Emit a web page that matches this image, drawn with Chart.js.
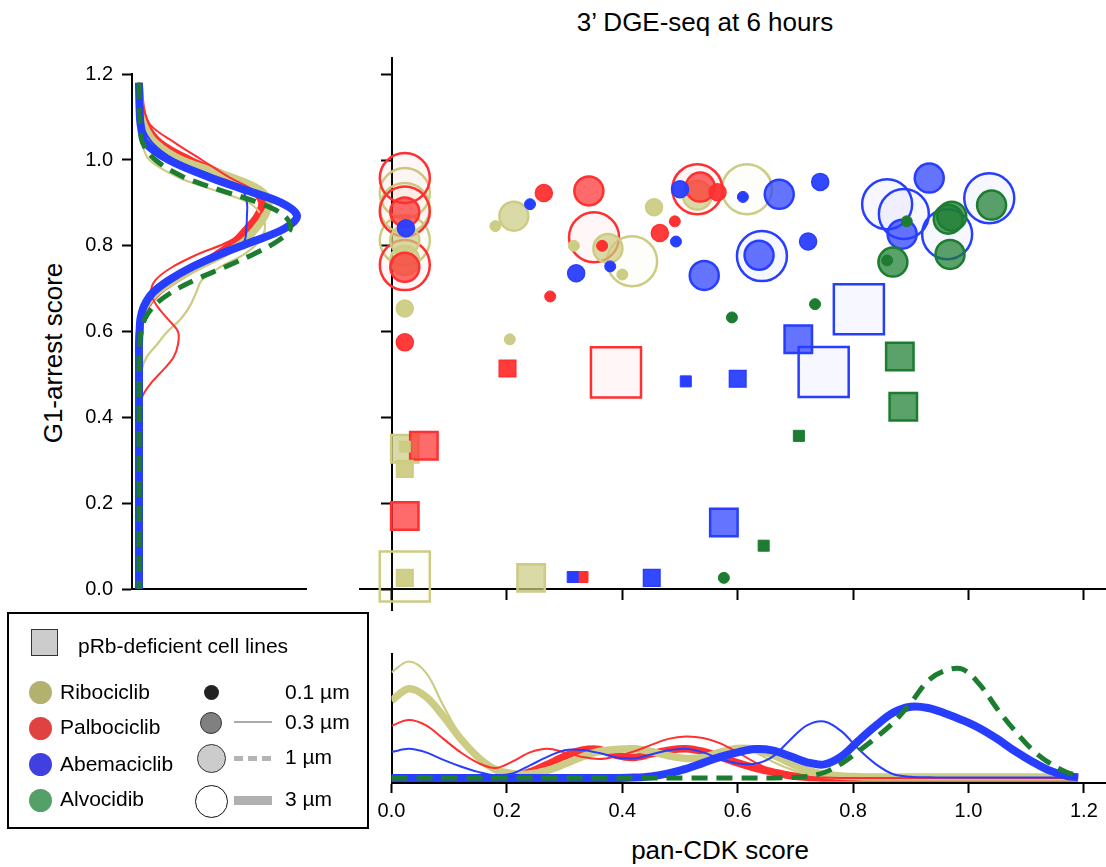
<!DOCTYPE html>
<html>
<head>
<meta charset="utf-8">
<title>3’ DGE-seq at 6 hours</title>
<script src="https://cdn.jsdelivr.net/npm/chart.js@4/dist/chart.umd.min.js"></script>
<style>
  html, body { margin: 0; padding: 0; background: #fff; }
  body { width: 1106px; height: 867px; position: relative; overflow: hidden;
         font-family: 'Liberation Sans', Arial, sans-serif; color: #000; }
  canvas { position: absolute; }
  .txt { position: absolute; white-space: nowrap; line-height: 24px; font-size: 21px; }
  .dot { position: absolute; border-radius: 50%; box-sizing: border-box; }
  .bar { position: absolute; }
</style>
</head>
<body>

<div class="txt" style="left:505px;top:7px;width:400px;text-align:center;font-size:26px;line-height:30px">3’ DGE-seq at 6 hours</div>
<div class="txt" style="left:570px;top:835px;width:300px;text-align:center;font-size:26px;line-height:30px">pan-CDK score</div>
<div class="txt" style="left:-97px;top:338px;width:300px;text-align:center;font-size:26px;line-height:30px;transform:rotate(-90deg)">G1-arrest score</div>

<canvas id="leftDens" width="280" height="560" style="left:40px;top:50px"></canvas>
<canvas id="mainChart" width="766" height="590" style="left:340px;top:40px"></canvas>
<canvas id="bottomDens" width="766" height="227" style="left:340px;top:640px"></canvas>

<!-- legend -->
<div style="position:absolute;left:7px;top:612px;width:362px;height:217px;border:2px solid #000;box-sizing:border-box"></div>
<div class="bar" style="left:31px;top:629px;width:27px;height:27px;background:#ccc;border:1.5px solid #333;box-sizing:border-box"></div>
<div class="txt" style="left:78px;top:634px">pRb-deficient cell lines</div>

<div class="dot" style="left:28.5px;top:680.5px;width:23px;height:23px;background:rgb(178,178,110)"></div>
<div class="dot" style="left:28.5px;top:716.5px;width:23px;height:23px;background:rgb(224,66,66)"></div>
<div class="dot" style="left:28.5px;top:752.5px;width:23px;height:23px;background:rgb(64,64,224)"></div>
<div class="dot" style="left:28.5px;top:789px;width:23px;height:23px;background:rgb(84,160,104)"></div>
<div class="txt" style="left:60px;top:680px">Ribociclib</div>
<div class="txt" style="left:60px;top:715px">Palbociclib</div>
<div class="txt" style="left:60px;top:752px">Abemaciclib</div>
<div class="txt" style="left:60px;top:787px">Alvocidib</div>

<div class="dot" style="left:203.5px;top:684.5px;width:15px;height:15px;background:#222"></div>
<div class="dot" style="left:200px;top:712px;width:22px;height:22px;background:#808080;border:1.5px solid #333"></div>
<div class="dot" style="left:196.5px;top:743.5px;width:29px;height:29px;background:#ccc;border:1.5px solid #333"></div>
<div class="dot" style="left:194.5px;top:784.5px;width:33px;height:33px;background:#fff;border:1.5px solid #111"></div>
<div class="bar" style="left:234px;top:721px;width:38px;height:2px;background:#aaa"></div>
<div class="bar" style="left:234px;top:756px;width:38px;height:5px;background:repeating-linear-gradient(to right,#b4b4b4 0 9px,transparent 9px 14px)"></div>
<div class="bar" style="left:234px;top:796px;width:38px;height:9px;background:#b0b0b0"></div>
<div class="txt" style="left:285px;top:680px">0.1 µm</div>
<div class="txt" style="left:285px;top:710px">0.3 µm</div>
<div class="txt" style="left:285px;top:745px">1 µm</div>
<div class="txt" style="left:285px;top:787px">3 µm</div>

<script>
// ---- tick values ----
const scoreTicks = [0, 0.2, 0.4, 0.6, 0.8, 1.0, 1.2];
const cdkTicks = [0, 0.2, 0.4, 0.6, 0.8, 1.0, 1.2];

// ---- scatter: pan-CDK score (x), G1-arrest score (y), dose in uM, pRb-deficient flag ----
const riboX = [0.023, 0.023, 0.023, 0.023, 0.023, 0.023, 0.212, 0.18, 0.205, 0.316, 0.375, 0.417, 0.40, 0.455, 0.53, 0.616,
               0.023, 0.023, 0.023, 0.023, 0.023, 0.242];
const riboY = [0.923, 0.888, 0.813, 0.813, 0.766, 0.654, 0.869, 0.846, 0.582, 0.80, 0.794, 0.764, 0.733, 0.89, 0.918, 0.932,
               0.327, 0.332, 0.28, 0.029, 0.026, 0.026];
const riboDose = [3, 3, 3, 1, 1, 0.3, 1, 0.1, 0.1, 0.1, 1, 3, 0.1, 0.3, 1, 3,
                  1, 0.1, 0.3, 3, 0.3, 1];
const riboRbNull = [0, 0, 0, 0, 0, 0, 0, 0, 0, 0, 0, 0, 0, 0, 0, 0,
                    1, 1, 1, 1, 1, 1];

const palboX = [0.023, 0.023, 0.023, 0.023, 0.023, 0.023, 0.264, 0.342, 0.351, 0.365, 0.465, 0.275, 0.491, 0.53, 0.535, 0.565,
                0.389, 0.201, 0.056, 0.023, 0.331];
const palboY = [0.958, 0.88, 0.755, 0.879, 0.75, 0.575, 0.923, 0.928, 0.82, 0.80, 0.83, 0.682, 0.857, 0.932, 0.937, 0.925,
                0.505, 0.514, 0.334, 0.17, 0.028];
const palboDose = [3, 3, 3, 1, 1, 0.3, 0.3, 1, 3, 0.1, 0.3, 0.1, 0.1, 3, 1, 0.3,
                   3, 0.3, 1, 1, 0.1];
const palboRbNull = [0, 0, 0, 0, 0, 0, 0, 0, 0, 0, 0, 0, 0, 0, 0, 0,
                     1, 1, 1, 1, 1];

const abemaX = [0.025, 0.24, 0.32, 0.379, 0.493, 0.5, 0.609, 0.672, 0.743, 0.722, 0.542, 0.642, 0.637, 0.859, 0.888, 0.885, 0.963, 0.932, 1.036,
                0.51, 0.60, 0.705, 0.81, 0.749, 0.576, 0.314, 0.451];
const abemaY = [0.841, 0.897, 0.736, 0.752, 0.81, 0.932, 0.914, 0.92, 0.949, 0.81, 0.731, 0.776, 0.778, 0.897, 0.874, 0.827, 0.827, 0.958, 0.911,
                0.484, 0.49, 0.582, 0.652, 0.506, 0.155, 0.028, 0.026];
const abemaDose = [0.3, 0.1, 0.3, 0.1, 0.1, 0.3, 0.1, 1, 0.3, 0.3, 1, 3, 1, 3, 3, 1, 3, 1, 3,
                   0.1, 0.3, 1, 3, 3, 1, 0.1, 0.3];
const abemaRbNull = [0, 0, 0, 0, 0, 0, 0, 0, 0, 0, 0, 0, 0, 0, 0, 0, 0, 0, 0,
                     1, 1, 1, 1, 1, 1, 1, 1];

const alvoX = [0.893, 0.971, 0.965, 1.04, 0.968, 0.869, 0.859, 0.734, 0.59, 0.576,
               0.881, 0.887, 0.706, 0.645];
const alvoY = [0.857, 0.869, 0.862, 0.895, 0.78, 0.762, 0.766, 0.664, 0.633, 0.026,
               0.542, 0.425, 0.357, 0.101];
const alvoDose = [0.1, 1, 1, 1, 1, 1, 0.1, 0.1, 0.1, 0.1,
                  1, 1, 0.1, 0.1];
const alvoRbNull = [0, 0, 0, 0, 0, 0, 0, 0, 0, 0,
                    1, 1, 1, 1];

// ---- left densities: G1-arrest score grid and density per curve ----
const scoreGrid = [1.18, 1.12, 1.08, 1.04, 1.00, 0.96, 0.93, 0.90, 0.87, 0.84, 0.81, 0.78, 0.75, 0.72, 0.69,
                   0.66, 0.63, 0.60, 0.57, 0.54, 0.51, 0.48, 0.45, 0.42, 0.30, 0.15, 0.00];
const leftAlvo1 = [0, 0.01, 0.04, 0.12, 0.55, 1.5, 2.7, 4.0, 4.85, 5.05, 4.6, 3.8, 2.85, 1.85, 1.05,
                   0.5, 0.2, 0.07, 0.02, 0, 0, 0, 0, 0, 0, 0, 0];
const leftAbema3 = [0, 0.02, 0.06, 0.22, 1.0, 2.35, 3.55, 4.75, 5.27, 4.85, 3.8, 2.7, 1.75, 1.0, 0.45,
                    0.17, 0.05, 0.02, 0, 0, 0, 0, 0, 0, 0, 0, 0];
const leftAbema03 = [0, 0.04, 0.12, 0.45, 1.2, 2.4, 3.43, 3.6, 3.6, 3.58, 3.5, 2.9, 1.8, 1.0, 0.45,
                     0.15, 0.05, 0.02, 0, 0, 0, 0, 0, 0, 0, 0, 0];
const leftPalbo03 = [0, 0.15, 0.4, 1.2, 2.1, 3.0, 3.8, 4.2, 4.0, 3.6, 3.0, 1.95, 1.1, 0.55, 0.4,
                     0.6, 0.95, 1.3, 1.3, 1.15, 0.8, 0.4, 0.12, 0.02, 0, 0, 0];
const leftRibo03 = [0, 0.01, 0.03, 0.1, 0.35, 1.3, 2.5, 3.67, 4.1, 4.2, 4.0, 3.5, 2.7, 2.1, 1.9,
                    1.7, 1.4, 0.95, 0.6, 0.25, 0.08, 0.02, 0, 0, 0, 0, 0];
const leftRibo3 = [0, 0.05, 0.18, 0.55, 1.43, 3.1, 4.05, 4.33, 4.2, 3.9, 3.5, 2.8, 1.95, 1.2, 0.57,
                   0.22, 0.07, 0.02, 0, 0, 0, 0, 0, 0, 0, 0, 0];
const leftPalbo3 = [0, 0.08, 0.25, 0.7, 1.7, 3.0, 3.8, 4.1, 3.95, 3.6, 3.2, 2.6, 1.9, 1.2, 0.6,
                    0.25, 0.08, 0.02, 0, 0, 0, 0, 0, 0, 0, 0, 0];

// ---- bottom densities: pan-CDK score grid and density per curve ----
const cdkGrid = [0, 0.03, 0.06, 0.09, 0.12, 0.15, 0.18, 0.21, 0.24, 0.27, 0.30, 0.33, 0.36, 0.39, 0.42, 0.45, 0.48, 0.51, 0.54, 0.57,
                 0.60, 0.63, 0.66, 0.69, 0.72, 0.75, 0.78, 0.81, 0.84, 0.87, 0.90, 0.93, 0.96, 0.99, 1.02, 1.05, 1.08, 1.11, 1.14, 1.17, 1.19];
const botAlvo1 = [0, 0, 0, 0, 0, 0, 0, 0, 0, 0, 0, 0, 0, 0, 0, 0, 0, 0, 0, 0,
                  0, 0, 0, 0.01, 0.05, 0.18, 0.48, 0.9, 1.35, 1.85, 2.5, 3.24, 3.58, 3.62, 3.1, 2.3, 1.58, 0.95, 0.5, 0.19, 0.08];
const botAbema3 = [0, 0, 0, 0, 0, 0, 0, 0, 0, 0, 0, 0, 0, 0, 0.01, 0.05, 0.15, 0.3, 0.5, 0.7,
                   0.85, 0.96, 0.92, 0.73, 0.52, 0.45, 0.72, 1.25, 1.75, 2.18, 2.37, 2.33, 2.15, 1.92, 1.65, 1.3, 0.9, 0.55, 0.25, 0.07, 0.02];
const botAbema03 = [0.86, 0.97, 0.85, 0.6, 0.38, 0.2, 0.09, 0.15, 0.42, 0.7, 0.92, 0.93, 0.83, 0.68, 0.65, 0.78, 0.92, 0.97, 0.85, 0.63,
                    0.48, 0.47, 0.7, 1.25, 1.75, 1.88, 1.55, 0.95, 0.45, 0.12, 0.04, 0.02, 0.01, 0.01, 0.01, 0.01, 0.01, 0.01, 0.01, 0.01, 0.01];
const botPalbo03 = [1.74, 1.93, 1.75, 1.3, 0.85, 0.5, 0.33, 0.55, 0.85, 0.97, 0.85, 0.7, 0.63, 0.72, 0.88, 1.1, 1.3, 1.38, 1.33, 1.15,
                    0.85, 0.52, 0.26, 0.12, 0.04, 0.01, 0, 0, 0, 0, 0, 0, 0, 0, 0, 0, 0, 0, 0, 0, 0];
const botPalbo3 = [0, 0, 0, 0, 0, 0, 0, 0.04, 0.2, 0.45, 0.72, 0.92, 0.95, 0.75, 0.68, 0.8, 0.92, 0.97, 0.88, 0.7,
                   0.5, 0.33, 0.2, 0.08, 0.02, 0, 0, 0, 0, 0, 0, 0, 0, 0, 0, 0, 0, 0, 0, 0, 0];
const botRibo03 = [3.52, 3.88, 3.5, 2.4, 1.4, 0.72, 0.32, 0.18, 0.2, 0.32, 0.52, 0.7, 0.84, 0.95, 0.99, 0.88, 0.72, 0.63, 0.7, 0.85,
                   0.95, 0.85, 0.55, 0.3, 0.12, 0.03, 0, 0, 0, 0, 0, 0, 0, 0, 0, 0, 0, 0, 0, 0, 0];
const botRibo3 = [2.58, 2.97, 2.7, 2.05, 1.3, 0.69, 0.28, 0.14, 0.13, 0.25, 0.46, 0.7, 0.88, 0.95, 0.97, 0.88, 0.74, 0.65, 0.68, 0.86,
                  0.98, 0.95, 0.77, 0.5, 0.26, 0.12, 0.06, 0.04, 0.03, 0.03, 0.03, 0.03, 0.03, 0.03, 0.03, 0.03, 0.03, 0.03, 0.03, 0.03, 0.03];

// ---- styles ----
const RIBO = [204, 204, 132], PALBO = [255, 48, 48], ABEMA = [40, 62, 255], ALVO = [28, 125, 48];
const rgba = (c, a) => `rgba(${c[0]},${c[1]},${c[2]},${a})`;

const circleR = {0.1: 5.5, 0.3: 8.5, 1: 14.5, 3: 25};
const squareR = {0.1: 7.8, 0.3: 11.7, 1: 19.4, 3: 35.4};
const fillAlpha = {0.1: 1, 0.3: 0.95, 1: 0.72, 3: 0.04};
const borderW = {0.1: 1, 0.3: 1.5, 1: 2.5, 3: 2.5};

Chart.defaults.font.family = "'Liberation Sans', Arial, sans-serif";
Chart.defaults.color = '#000';

const noPlugins = { legend: { display: false }, tooltip: { enabled: false } };
const fixedTicks = vals => s => { s.ticks = vals.map(v => ({ value: v })); };
const tickGrid = { drawOnChartArea: false, drawTicks: true, tickLength: 10, tickWidth: 2, tickColor: '#000' };
const axisLine = { display: true, color: '#000', width: 2 };

// ---- main scatter ----
const drugs = [
  { x: riboX, y: riboY, dose: riboDose, rb: riboRbNull, color: RIBO },
  { x: palboX, y: palboY, dose: palboDose, rb: palboRbNull, color: PALBO },
  { x: abemaX, y: abemaY, dose: abemaDose, rb: abemaRbNull, color: ABEMA },
  { x: alvoX, y: alvoY, dose: alvoDose, rb: alvoRbNull, color: ALVO }
];
// first dataset is painted last (on top): small doses above big ones
const scatterSets = [0.1, 0.3, 1, 3].map(d => {
  const pts = [], style = [], rad = [], bg = [], bc = [];
  drugs.forEach(g => g.x.forEach((xv, i) => {
    if (g.dose[i] !== d) return;
    const sq = g.rb[i] === 1;
    pts.push({ x: xv, y: g.y[i] });
    style.push(sq ? 'rect' : 'circle');
    rad.push(sq ? squareR[d] : circleR[d]);
    bg.push(rgba(g.color, fillAlpha[d]));
    bc.push(rgba(g.color, 1));
  }));
  return {
    data: pts, showLine: false, clip: false,
    pointStyle: style, pointRadius: rad, pointHoverRadius: rad,
    pointBackgroundColor: bg, pointBorderColor: bc, pointBorderWidth: borderW[d]
  };
});

new Chart(document.getElementById('mainChart'), {
  type: 'scatter',
  data: { datasets: scatterSets },
  options: {
    responsive: false, animation: false, events: [],
    layout: { autoPadding: false, padding: { left: 19.8, right: 0.2, top: 17.9, bottom: 19.1 } },
    plugins: noPlugins,
    scales: {
      x: {
        type: 'linear', min: -0.055, max: 1.238, position: { y: 0 },
        afterBuildTicks: fixedTicks(cdkTicks),
        afterFit: s => { s.height = 0; },
        ticks: { display: false }, grid: tickGrid, border: axisLine
      },
      y: {
        type: 'linear', min: -0.051, max: 1.238, position: { x: 0 },
        afterBuildTicks: fixedTicks(scoreTicks),
        afterFit: s => { s.width = 0; },
        ticks: { display: false }, grid: tickGrid, border: axisLine
      }
    }
  }
});

// ---- density lines ----
const lineStyles = [
  { key: 'alvo1',   color: ALVO,  width: 5,   dash: [16, 9] },
  { key: 'abema3',  color: ABEMA, width: 8,   dash: [] },
  { key: 'abema03', color: ABEMA, width: 2,   dash: [] },
  { key: 'palbo03', color: PALBO, width: 2,   dash: [] },
  { key: 'ribo03',  color: RIBO,  width: 2.2, dash: [] },
  { key: 'ribo3',   color: RIBO,  width: 7.5, dash: [] },
  { key: 'palbo3',  color: PALBO, width: 7.5, dash: [] }
];
const leftCurves = { alvo1: leftAlvo1, abema3: leftAbema3, abema03: leftAbema03, palbo03: leftPalbo03,
                     ribo03: leftRibo03, ribo3: leftRibo3, palbo3: leftPalbo3 };
const botCurves = { alvo1: botAlvo1, abema3: botAbema3, abema03: botAbema03, palbo03: botPalbo03,
                    ribo03: botRibo03, ribo3: botRibo3, palbo3: botPalbo3 };

const lineSet = (st, pts) => ({
  data: pts, showLine: true, pointRadius: 0, pointHoverRadius: 0, fill: false,
  borderColor: rgba(st.color, 1), borderWidth: st.width, borderDash: st.dash,
  borderCapStyle: 'butt', tension: 0.35
});

new Chart(document.getElementById('leftDens'), {
  type: 'scatter',
  data: { datasets: lineStyles.map(st => lineSet(st, scoreGrid.map((s, i) => ({ x: leftCurves[st.key][i], y: s })))) },
  options: {
    responsive: false, animation: false, events: [],
    layout: { autoPadding: false, padding: { left: 0, right: 14, top: 24.2, bottom: 21 } },
    plugins: noPlugins,
    scales: {
      x: {
        type: 'linear', min: -0.233, max: 5.57,
        afterFit: s => { s.height = 0; },
        ticks: { display: false }, grid: { display: false }, border: axisLine
      },
      y: {
        type: 'linear', min: 0, max: 1.2,
        afterBuildTicks: fixedTicks(scoreTicks),
        afterFit: s => { s.width = 92; },
        ticks: { font: { size: 20 }, color: '#000', padding: 9, callback: v => v.toFixed(1) },
        grid: tickGrid, border: axisLine
      }
    }
  }
});

new Chart(document.getElementById('bottomDens'), {
  type: 'scatter',
  data: { datasets: lineStyles.map(st => lineSet(st, cdkGrid.map((c, i) => ({ x: c, y: botCurves[st.key][i] })))) },
  options: {
    responsive: false, animation: false, events: [],
    layout: { autoPadding: false, padding: { left: 51.5, right: 0.2, top: 14, bottom: 0 } },
    plugins: noPlugins,
    scales: {
      x: {
        type: 'linear', min: 0, max: 1.238,
        afterBuildTicks: fixedTicks(cdkTicks),
        afterFit: s => { s.height = 84; },
        ticks: { font: { size: 20 }, color: '#000', padding: 6, maxRotation: 0, callback: v => v.toFixed(1) },
        grid: tickGrid, border: axisLine
      },
      y: {
        type: 'linear', min: -0.17, max: 4.13,
        afterFit: s => { s.width = 0; },
        ticks: { display: false }, grid: { display: false }, border: axisLine
      }
    }
  }
});
</script>
</body>
</html>
